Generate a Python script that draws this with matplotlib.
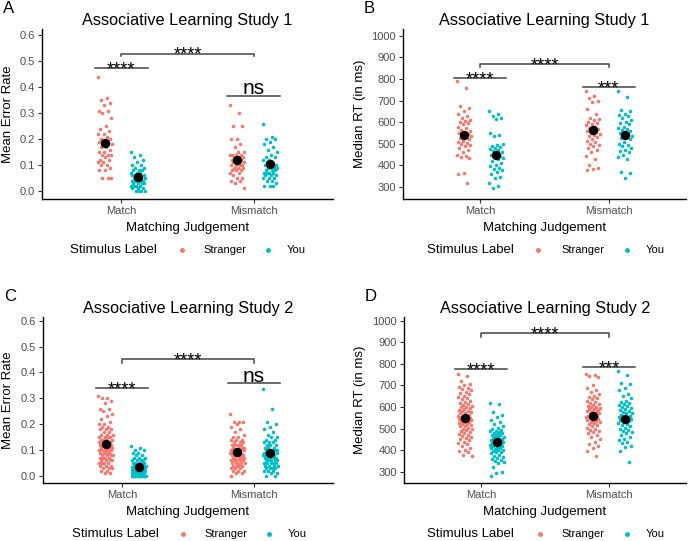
import numpy as np
import matplotlib
matplotlib.use("Agg")
import matplotlib.pyplot as plt
from matplotlib.lines import Line2D

plt.rcParams['font.family'] = ['Liberation Sans', 'DejaVu Sans']

# ---------------- data ----------------
conditions = ["Match", "Mismatch"]
labels = ["Stranger", "You"]
colors = {"Stranger": "#F8766D", "You": "#00BFC4"}

# Study 1, mean error rate
err1_stranger_match = [0.44, 0.36, 0.35, 0.34, 0.33, 0.31, 0.31, 0.30, 0.28, 0.25, 0.24, 0.23, 0.22, 0.22,
                       0.21, 0.20, 0.20, 0.19, 0.19, 0.18, 0.18, 0.18, 0.17, 0.17, 0.16, 0.15, 0.15, 0.14,
                       0.14, 0.14, 0.13, 0.12, 0.12, 0.11, 0.11, 0.10, 0.10, 0.09, 0.08, 0.08, 0.05, 0.05, 0.05]
err1_you_match = [0.15, 0.14, 0.13, 0.12, 0.11, 0.10, 0.10, 0.09, 0.09, 0.08, 0.08, 0.08, 0.07, 0.07, 0.07,
                  0.06, 0.06, 0.06, 0.06, 0.05, 0.05, 0.05, 0.05, 0.05, 0.04, 0.04, 0.04, 0.04, 0.04, 0.03,
                  0.03, 0.03, 0.03, 0.02, 0.02, 0.02, 0.02, 0.01, 0.01, 0.01, 0.00, 0.00, 0.00, 0.00]
err1_stranger_mismatch = [0.33, 0.30, 0.25, 0.25, 0.20, 0.20, 0.18, 0.17, 0.15, 0.15, 0.14, 0.14, 0.14, 0.14,
                          0.13, 0.13, 0.13, 0.13, 0.12, 0.12, 0.12, 0.11, 0.11, 0.11, 0.10, 0.10, 0.10, 0.10,
                          0.09, 0.09, 0.09, 0.08, 0.08, 0.08, 0.07, 0.07, 0.06, 0.05, 0.05, 0.04, 0.04, 0.03, 0.01]
err1_you_mismatch = [0.26, 0.21, 0.20, 0.20, 0.19, 0.18, 0.17, 0.16, 0.15, 0.14, 0.13, 0.13, 0.12, 0.12,
                     0.11, 0.11, 0.10, 0.10, 0.10, 0.09, 0.09, 0.09, 0.08, 0.08, 0.08, 0.07, 0.07, 0.07,
                     0.07, 0.06, 0.06, 0.06, 0.05, 0.05, 0.05, 0.04, 0.04, 0.03, 0.02, 0.02, 0.02]
err1_means = {"Stranger": [0.185, 0.118], "You": [0.055, 0.105]}

# Study 1, median RT
rt1_stranger_match = [790, 760, 675, 665, 650, 640, 630, 620, 610, 605, 600, 595, 590, 580, 575, 565, 560,
                      555, 550, 545, 540, 535, 530, 525, 520, 515, 510, 505, 500, 495, 490, 480, 470, 460,
                      450, 445, 440, 435, 365, 360, 320]
rt1_you_match = [650, 640, 630, 620, 615, 550, 540, 535, 500, 495, 490, 485, 480, 475, 470, 465, 460, 455,
                 450, 445, 440, 435, 430, 420, 410, 400, 395, 390, 385, 380, 370, 360, 345, 340, 320, 305, 295]
rt1_stranger_mismatch = [745, 720, 710, 700, 695, 660, 640, 620, 615, 610, 600, 595, 590, 585, 580, 575,
                         570, 565, 560, 555, 550, 545, 540, 535, 530, 520, 515, 510, 500, 495, 490, 480,
                         470, 460, 445, 430, 400, 390, 385, 380]
rt1_you_mismatch = [745, 715, 655, 650, 640, 635, 630, 620, 610, 600, 595, 590, 580, 575, 570, 565, 560,
                    555, 550, 545, 540, 535, 530, 525, 520, 510, 500, 495, 490, 480, 470, 465, 460, 450,
                    440, 430, 370, 365, 340]
rt1_means = {"Stranger": [541, 563], "You": [447, 542]}

# Study 2, mean error rate
err2_stranger_match = [0.31, 0.30, 0.30, 0.29, 0.28, 0.26, 0.26, 0.25, 0.24, 0.23, 0.22, 0.21, 0.20, 0.20,
                       0.19, 0.19, 0.18, 0.18, 0.18, 0.17, 0.17, 0.16, 0.16, 0.16, 0.15, 0.15, 0.15, 0.15,
                       0.14, 0.14, 0.14, 0.14, 0.13, 0.13, 0.13, 0.13, 0.13, 0.12, 0.12, 0.12, 0.12, 0.12,
                       0.11, 0.11, 0.11, 0.11, 0.10, 0.10, 0.10, 0.10, 0.10, 0.09, 0.09, 0.09, 0.09, 0.08,
                       0.08, 0.08, 0.08, 0.07, 0.07, 0.07, 0.07, 0.06, 0.06, 0.06, 0.06, 0.05, 0.05, 0.05,
                       0.05, 0.04, 0.04, 0.04, 0.03, 0.03, 0.03, 0.02, 0.02, 0.01, 0.01]
err2_you_match = [0.115, 0.11, 0.10, 0.10, 0.09, 0.09, 0.08, 0.08, 0.07, 0.07, 0.07, 0.06, 0.06, 0.06, 0.06,
                  0.05, 0.05, 0.05, 0.05, 0.05, 0.04, 0.04, 0.04, 0.04, 0.04, 0.04, 0.035, 0.035, 0.03,
                  0.03, 0.03, 0.03, 0.03, 0.03, 0.025, 0.025, 0.02, 0.02, 0.02, 0.02, 0.02, 0.02, 0.02,
                  0.015, 0.015, 0.01, 0.01, 0.01, 0.01, 0.01, 0.01, 0.01, 0.005, 0.005, 0.005, 0.0, 0.0,
                  0.0, 0.0, 0.0, 0.0, 0.0, 0.0, 0.0, 0.0, 0.0, 0.0, 0.0, 0.0, 0.0]
err2_stranger_mismatch = [0.24, 0.21, 0.21, 0.21, 0.20, 0.19, 0.18, 0.17, 0.16, 0.15, 0.15, 0.14, 0.14,
                          0.14, 0.13, 0.13, 0.13, 0.12, 0.12, 0.12, 0.12, 0.11, 0.11, 0.11, 0.11, 0.10,
                          0.10, 0.10, 0.10, 0.10, 0.09, 0.09, 0.09, 0.09, 0.09, 0.08, 0.08, 0.08, 0.08,
                          0.08, 0.08, 0.07, 0.07, 0.07, 0.07, 0.07, 0.06, 0.06, 0.06, 0.06, 0.06, 0.05,
                          0.05, 0.05, 0.05, 0.05, 0.04, 0.04, 0.04, 0.04, 0.03, 0.03, 0.03, 0.02, 0.02,
                          0.02, 0.01, 0.01, 0.0]
err2_you_mismatch = [0.335, 0.26, 0.21, 0.20, 0.19, 0.18, 0.17, 0.16, 0.15, 0.15, 0.14, 0.14, 0.13, 0.13,
                     0.13, 0.12, 0.12, 0.12, 0.11, 0.11, 0.11, 0.10, 0.10, 0.10, 0.10, 0.09, 0.09, 0.09,
                     0.09, 0.09, 0.08, 0.08, 0.08, 0.08, 0.08, 0.08, 0.07, 0.07, 0.07, 0.07, 0.07, 0.07,
                     0.06, 0.06, 0.06, 0.06, 0.06, 0.05, 0.05, 0.05, 0.05, 0.05, 0.04, 0.04, 0.04, 0.04,
                     0.03, 0.03, 0.03, 0.03, 0.02, 0.02, 0.02, 0.01, 0.01, 0.0, 0.0]
err2_means = {"Stranger": [0.125, 0.093], "You": [0.033, 0.087]}

# Study 2, median RT
rt2_stranger_match = [755, 745, 720, 705, 700, 695, 690, 685, 680, 670, 665, 660, 650, 645, 640, 635, 630,
                      625, 620, 615, 610, 605, 600, 600, 595, 590, 585, 580, 580, 575, 570, 570, 565, 560,
                      560, 555, 555, 550, 550, 545, 545, 540, 540, 535, 535, 530, 530, 525, 520, 520, 515,
                      510, 510, 505, 500, 500, 495, 490, 485, 480, 475, 470, 465, 460, 455, 450, 445, 440,
                      435, 430, 420, 410, 400, 395, 390, 380, 375]
rt2_you_match = [620, 615, 575, 565, 555, 540, 530, 520, 510, 505, 500, 495, 490, 490, 485, 480, 480, 475,
                 470, 470, 465, 460, 460, 455, 450, 450, 445, 445, 440, 440, 435, 435, 430, 430, 425, 425,
                 420, 420, 415, 410, 410, 405, 400, 400, 395, 390, 390, 385, 380, 375, 370, 365, 360, 355,
                 350, 345, 340, 320, 300, 295, 280]
rt2_stranger_mismatch = [755, 750, 745, 740, 700, 690, 680, 670, 660, 650, 645, 640, 635, 630, 625, 620,
                         615, 610, 605, 600, 600, 595, 590, 590, 585, 580, 580, 575, 570, 570, 565, 560,
                         560, 555, 555, 550, 550, 545, 540, 540, 535, 530, 530, 525, 520, 515, 510, 505,
                         500, 495, 490, 485, 480, 470, 460, 450, 440, 430, 420, 410, 395, 375]
rt2_you_mismatch = [765, 750, 710, 705, 690, 680, 660, 650, 640, 630, 625, 620, 615, 610, 605, 600, 595,
                    590, 585, 580, 575, 570, 570, 565, 560, 560, 555, 550, 550, 545, 540, 540, 535, 530,
                    525, 520, 515, 510, 505, 500, 495, 490, 485, 480, 470, 460, 450, 445, 440, 435, 420,
                    415, 395, 345]
rt2_means = {"Stranger": [547, 560], "You": [437, 544]}

err_ticks = [0.0, 0.1, 0.2, 0.3, 0.4, 0.5, 0.6]
rt_ticks = [300, 400, 500, 600, 700, 800, 900, 1000]

# ---------------- figure ----------------
W, H = 688, 541
fig = plt.figure(figsize=(W / 100, H / 100), dpi=100)


def fx(x):
    return x / W


def fy(y):
    return 1 - y / H


def jitter(n, width=0.055):
    # deterministic spread of points around the dodge position
    return (((np.arange(n) * 0.618034) % 1) - 0.5) * 2 * width


def panel(box, letter, title, ylabel, groups, means, ticks, fmt, ylim, brackets, legend_x, label_x):
    left, top, right, bottom = box
    ax = fig.add_axes([fx(left), fy(bottom), fx(right - left), (bottom - top) / H])
    dodge = {"Stranger": -0.125, "You": 0.125}
    for ci, cond in enumerate(conditions):
        for lab in labels:
            vals = np.array(groups[(lab, cond)])
            xs = ci + 1 + dodge[lab] + jitter(len(vals))
            ax.scatter(xs, vals, s=6.5, color=colors[lab], linewidths=0, zorder=2)
    for lab in labels:
        ax.scatter(np.arange(1, 3) + dodge[lab], means[lab], s=46, color="black", linewidths=0, zorder=3)

    for x0, x1, y, tip, txt in brackets:
        if tip is None:
            ax.plot([x0, x1], [y, y], color="#444444", lw=1.1, zorder=1)
        else:
            ax.plot([x0, x0, x1, x1], [tip, y, y, tip], color="#444444", lw=1.1, zorder=1)
        if txt == "ns":
            ax.annotate(txt, ((x0 + x1) / 2, y), xytext=(0, 0.8), textcoords="offset points",
                        ha="center", va="baseline", fontsize=15)
        else:
            ax.annotate(txt, ((x0 + x1) / 2, y), xytext=(0, -4.5), textcoords="offset points",
                        ha="center", va="baseline", fontsize=13)

    ax.set_xlim(0.4, 2.6)
    ax.set_ylim(*ylim)
    ax.set_xticks([1, 2])
    ax.set_xticklabels(conditions)
    ax.set_yticks(ticks)
    ax.set_yticklabels([fmt.format(t) for t in ticks])
    ax.tick_params(axis="both", labelsize=8, labelcolor="#4D4D4D", color="#333333",
                   length=3, width=0.8, pad=2)
    for s in ["top", "right"]:
        ax.spines[s].set_visible(False)
    for s in ["left", "bottom"]:
        ax.spines[s].set_linewidth(1.0)
        ax.spines[s].set_color("black")

    cx = (left + right) / 2
    fig.text(fx(left - 39), fy(top - 28), letter, fontsize=12, ha="left", va="top")
    fig.text(fx(cx), fy(top - 8), title, fontsize=11.7, ha="center", va="center")
    fig.text(fx(label_x), fy((top + bottom) / 2), ylabel, fontsize=9.5, rotation=90,
             ha="center", va="center")
    fig.text(fx(cx), fy(bottom + 29), "Matching Judgement", fontsize=9.5, ha="center", va="center")

    ly = bottom + 51
    fig.text(fx(legend_x[0]), fy(ly), "Stimulus Label", fontsize=9.5, ha="left", va="center")
    for mx, tx, lab in [(legend_x[1], legend_x[2], "Stranger"), (legend_x[3], legend_x[4], "You")]:
        fig.add_artist(Line2D([fx(mx)], [fy(ly)], marker="o", markersize=2.5, color=colors[lab],
                              linestyle="none", transform=fig.transFigure))
        fig.text(fx(tx), fy(ly), lab, fontsize=8, ha="left", va="center")
    return ax


panel((42, 29, 333, 199), "A", "Associative Learning Study 1", "Mean Error Rate",
      {("Stranger", "Match"): err1_stranger_match, ("You", "Match"): err1_you_match,
       ("Stranger", "Mismatch"): err1_stranger_mismatch, ("You", "Mismatch"): err1_you_mismatch},
      err1_means, err_ticks, "{:.1f}", (-0.031, 0.625),
      [(1, 2, 0.53, 0.52, "****"), (0.8, 1.2, 0.475, None, "****"), (1.8, 2.2, 0.368, None, "ns")],
      (70, 182, 203, 268, 287), 8)

panel((403, 29, 686, 199), "B", "Associative Learning Study 1", "Median RT (in ms)",
      {("Stranger", "Match"): rt1_stranger_match, ("You", "Match"): rt1_you_match,
       ("Stranger", "Mismatch"): rt1_stranger_mismatch, ("You", "Mismatch"): rt1_you_mismatch},
      rt1_means, rt_ticks, "{:d}", (244, 1032),
      [(1, 2, 869, 857, "****"), (0.8, 1.2, 804, None, "****"), (1.8, 2.2, 761, None, "***")],
      (427, 538, 561, 627, 646), 360)

panel((43, 317, 333, 483), "C", "Associative Learning Study 2", "Mean Error Rate",
      {("Stranger", "Match"): err2_stranger_match, ("You", "Match"): err2_you_match,
       ("Stranger", "Mismatch"): err2_stranger_mismatch, ("You", "Mismatch"): err2_you_mismatch},
      err2_means, err_ticks, "{:.1f}", (-0.027, 0.614),
      [(1, 2, 0.45, 0.437, "****"), (0.8, 1.2, 0.339, None, "****"), (1.8, 2.2, 0.36, None, "ns")],
      (72, 183, 204, 269, 288), 8)

panel((404, 317, 686, 483), "D", "Associative Learning Study 2", "Median RT (in ms)",
      {("Stranger", "Match"): rt2_stranger_match, ("You", "Match"): rt2_you_match,
       ("Stranger", "Mismatch"): rt2_stranger_mismatch, ("You", "Mismatch"): rt2_you_mismatch},
      rt2_means, rt_ticks, "{:d}", (248, 1017),
      [(1, 2, 941, 926, "****"), (0.8, 1.2, 775, None, "****"), (1.8, 2.2, 784, None, "***")],
      (427, 540, 561, 627, 646), 360)

fig.savefig("out.png", dpi=100)
